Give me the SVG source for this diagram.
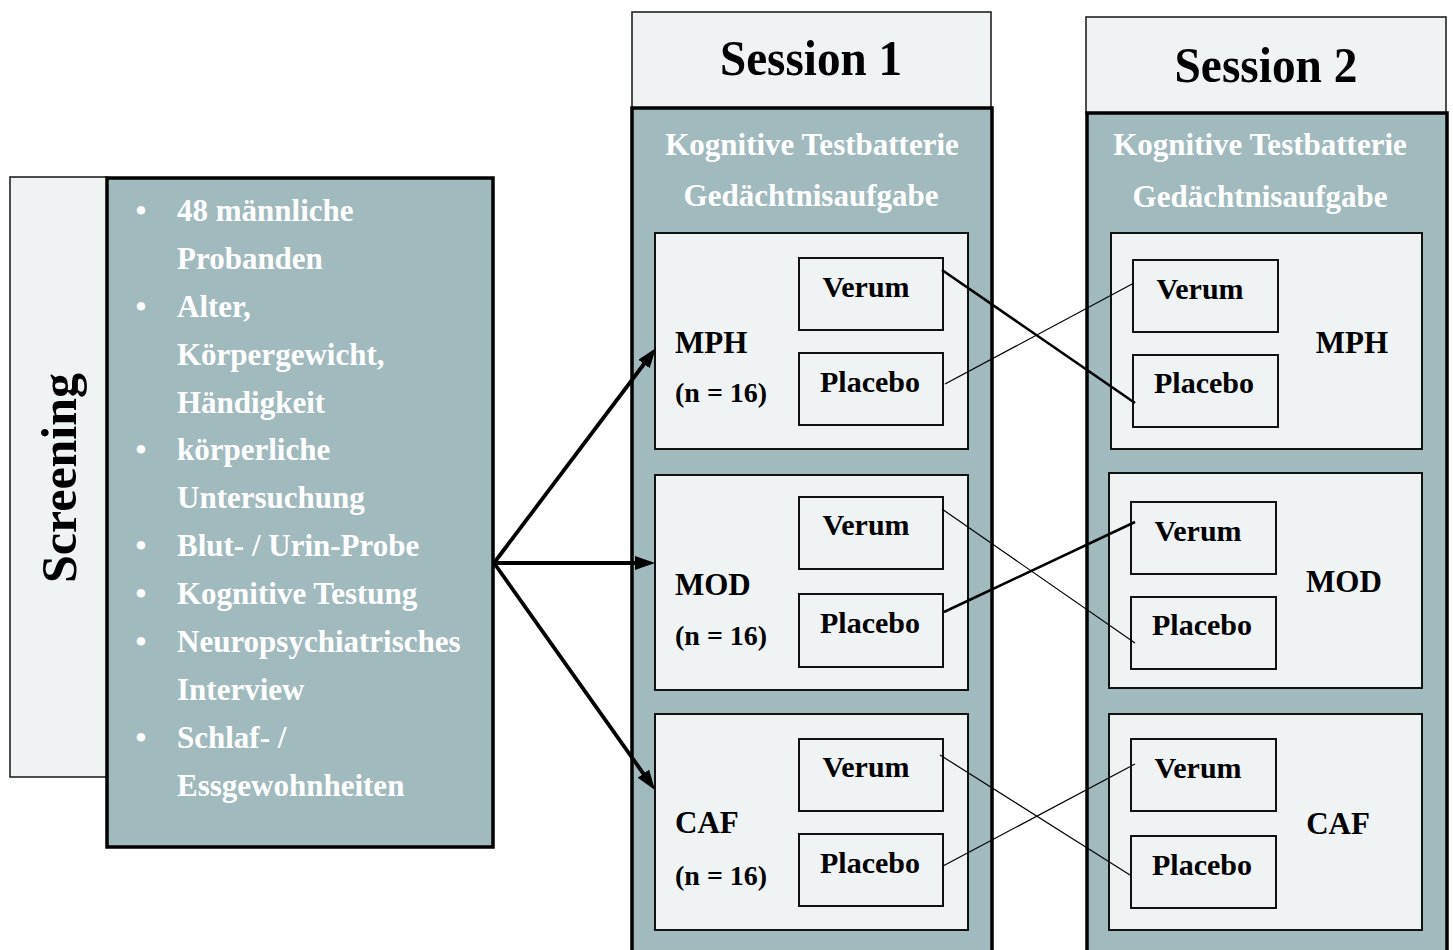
<svg xmlns="http://www.w3.org/2000/svg" width="1453" height="950" viewBox="0 0 1453 950">
<style>
text{font-family:"Liberation Serif","Times New Roman",serif;font-weight:bold}
.light{fill:#eff3f4;stroke:#222;stroke-width:1.6}
.gray{fill:#a1babe;stroke:#000;stroke-width:3.5}
.inner{fill:#eff3f4;stroke:#111;stroke-width:2}
.sub{fill:#eff3f4;stroke:#111;stroke-width:2}
.wt{fill:#ffffff;font-size:31px}
.ht{fill:#ffffff;font-size:31px}
.bt{fill:#000;font-size:30px}
.lbl{fill:#000;font-size:31px}
.n{fill:#000;font-size:28px}
.thick{stroke:#000;stroke-width:2.6;fill:none}
.thin{stroke:#000;stroke-width:1.2;fill:none}
.arr{stroke:#000;stroke-width:3.8;fill:none}
</style>
<defs>
<marker id="ah" markerUnits="userSpaceOnUse" markerWidth="20" markerHeight="14" refX="10" refY="7" orient="auto">
<path d="M0,0 L20,7 L0,14 z" fill="#000"/>
</marker>
</defs>
<rect width="1453" height="950" fill="#ffffff"/>

<g id="screening">
<rect class="light" x="10" y="177" width="97" height="600"/>
<text x="76" y="478" transform="rotate(-90 76 478)" text-anchor="middle" font-size="50" fill="#000" textLength="210" lengthAdjust="spacingAndGlyphs">Screening</text>
</g>

<g id="criteria">
<rect class="gray" x="107" y="178" width="386" height="669"/>
<g class="wt">
<text x="141" y="221" text-anchor="middle">•</text>
<text x="177" y="221">48 männliche</text>
<text x="177" y="269">Probanden</text>
<text x="141" y="317" text-anchor="middle">•</text>
<text x="177" y="317">Alter,</text>
<text x="177" y="365">Körpergewicht,</text>
<text x="177" y="413">Händigkeit</text>
<text x="141" y="460" text-anchor="middle">•</text>
<text x="177" y="460">körperliche</text>
<text x="177" y="508">Untersuchung</text>
<text x="141" y="556" text-anchor="middle">•</text>
<text x="177" y="556">Blut- / Urin-Probe</text>
<text x="141" y="604" text-anchor="middle">•</text>
<text x="177" y="604">Kognitive Testung</text>
<text x="141" y="652" text-anchor="middle">•</text>
<text x="177" y="652">Neuropsychiatrisches</text>
<text x="177" y="700">Interview</text>
<text x="141" y="748" text-anchor="middle">•</text>
<text x="177" y="748">Schlaf- /</text>
<text x="177" y="796">Essgewohnheiten</text>
</g>
</g>

<g id="session1">
<rect class="light" x="632" y="12" width="359" height="96"/>
<text x="811" y="75" text-anchor="middle" font-size="50" fill="#000" textLength="182" lengthAdjust="spacingAndGlyphs">Session 1</text>
<rect class="gray" x="632" y="108" width="360" height="846"/>
<text class="ht" x="812" y="155" text-anchor="middle">Kognitive Testbatterie</text>
<text class="ht" x="811" y="206" text-anchor="middle">Gedächtnisaufgabe</text>
</g>

<g id="s1-mph">
<rect class="inner" x="655" y="233" width="313" height="216"/>
<text class="lbl" x="675" y="353">MPH</text>
<text class="n" x="675" y="402">(n = 16)</text>
<rect class="sub" x="799" y="258" width="144" height="72"/>
<text class="bt" x="866" y="297" text-anchor="middle">Verum</text>
<rect class="sub" x="799" y="353" width="144" height="72"/>
<text class="bt" x="870" y="392" text-anchor="middle">Placebo</text>
</g>

<g id="s1-mod">
<rect class="inner" x="655" y="475" width="313" height="215"/>
<text class="lbl" x="675" y="595">MOD</text>
<text class="n" x="675" y="645">(n = 16)</text>
<rect class="sub" x="799" y="497" width="144" height="72"/>
<text class="bt" x="866" y="535" text-anchor="middle">Verum</text>
<rect class="sub" x="799" y="594" width="144" height="73"/>
<text class="bt" x="870" y="633" text-anchor="middle">Placebo</text>
</g>

<g id="s1-caf">
<rect class="inner" x="655" y="714" width="313" height="216"/>
<text class="lbl" x="675" y="833">CAF</text>
<text class="n" x="675" y="885">(n = 16)</text>
<rect class="sub" x="799" y="739" width="144" height="72"/>
<text class="bt" x="866" y="777" text-anchor="middle">Verum</text>
<rect class="sub" x="799" y="834" width="144" height="72"/>
<text class="bt" x="870" y="873" text-anchor="middle">Placebo</text>
</g>

<g id="session2">
<rect class="light" x="1086" y="17" width="360" height="96"/>
<text x="1266" y="82" text-anchor="middle" font-size="50" fill="#000" textLength="183" lengthAdjust="spacingAndGlyphs">Session 2</text>
<rect class="gray" x="1087" y="113" width="360" height="841"/>
<text class="ht" x="1260" y="155" text-anchor="middle">Kognitive Testbatterie</text>
<text class="ht" x="1260" y="207" text-anchor="middle">Gedächtnisaufgabe</text>
</g>

<g id="s2-mph">
<rect class="inner" x="1111" y="233" width="311" height="216"/>
<text class="lbl" x="1352" y="353" text-anchor="middle">MPH</text>
<rect class="sub" x="1133" y="260" width="145" height="72"/>
<text class="bt" x="1200" y="299" text-anchor="middle">Verum</text>
<rect class="sub" x="1133" y="355" width="145" height="72"/>
<text class="bt" x="1204" y="393" text-anchor="middle">Placebo</text>
</g>

<g id="s2-mod">
<rect class="inner" x="1109" y="473" width="313" height="215"/>
<text class="lbl" x="1344" y="592" text-anchor="middle">MOD</text>
<rect class="sub" x="1131" y="502" width="145" height="72"/>
<text class="bt" x="1198" y="541" text-anchor="middle">Verum</text>
<rect class="sub" x="1131" y="597" width="145" height="72"/>
<text class="bt" x="1202" y="635" text-anchor="middle">Placebo</text>
</g>

<g id="s2-caf">
<rect class="inner" x="1109" y="714" width="313" height="216"/>
<text class="lbl" x="1338" y="834" text-anchor="middle">CAF</text>
<rect class="sub" x="1131" y="739" width="145" height="72"/>
<text class="bt" x="1198" y="778" text-anchor="middle">Verum</text>
<rect class="sub" x="1131" y="836" width="145" height="72"/>
<text class="bt" x="1202" y="875" text-anchor="middle">Placebo</text>
</g>

<g id="connectors">
<line class="arr" x1="494" y1="563" x2="650" y2="356" marker-end="url(#ah)"/>
<line class="arr" x1="494" y1="563" x2="645" y2="563" marker-end="url(#ah)"/>
<line class="arr" x1="494" y1="563" x2="649.2" y2="781.8" marker-end="url(#ah)"/>
<line class="thick" x1="942" y1="270" x2="1135" y2="403"/>
<line class="thin" x1="945" y1="384" x2="1134" y2="283"/>
<line class="thin" x1="942" y1="509" x2="1135" y2="643"/>
<line class="thick" x1="944" y1="612" x2="1135" y2="522"/>
<line class="thin" x1="940" y1="755" x2="1130" y2="875"/>
<line class="thin" x1="943" y1="866" x2="1135" y2="764"/>
</g>
</svg>
